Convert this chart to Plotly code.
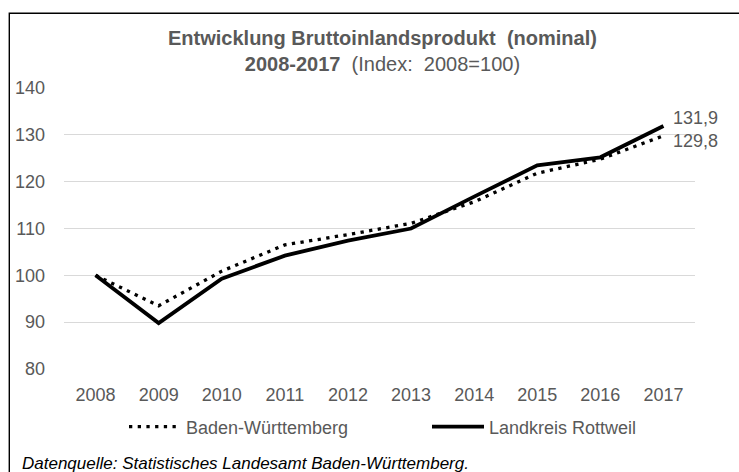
import plotly.graph_objects as go

years = ["2008", "2009", "2010", "2011", "2012", "2013", "2014", "2015", "2016", "2017"]
bw_values = [100, 93.5, 100.9, 106.5, 108.7, 111.1, 115.7, 121.8, 124.8, 129.8]
rw_values = [100, 89.8, 99.3, 104.2, 107.4, 110.0, 116.8, 123.5, 125.2, 131.9]
bw_name = "Baden-Württemberg"
rw_name = "Landkreis Rottweil"
end_labels = ["131,9", "129,8"]
y_ticks = [80, 90, 100, 110, 120, 130, 140]

GREY = "#595959"
FONT = "Liberation Sans, Arial, sans-serif"

fig = go.Figure()
fig.add_trace(go.Scatter(x=years, y=bw_values, name=bw_name, mode="lines", legend="legend",
                         line=dict(color="black", width=3.3, dash="3.3px,5.4px")))
fig.add_trace(go.Scatter(x=years, y=rw_values, name=rw_name, mode="lines", legend="legend2",
                         line=dict(color="black", width=3.8)))

leg_common = dict(orientation="h", xanchor="left", yanchor="middle", y=(369 - 427) / 281,
                  font=dict(size=18, color=GREY), itemwidth=52, bgcolor="rgba(0,0,0,0)")

fig.update_layout(
    width=739, height=472,
    margin=dict(l=64, r=44, t=88, b=103),
    paper_bgcolor="white", plot_bgcolor="white",
    font=dict(family=FONT, size=18, color=GREY),
    showlegend=True,
    legend=dict(x=(124 - 64) / 631, **leg_common),
    legend2=dict(x=(427 - 64) / 631, **leg_common),
    xaxis=dict(type="category", range=[-0.5, 9.5], showgrid=False, showline=False,
               ticks="", tickfont=dict(size=18, color=GREY), zeroline=False,
               ticklabelstandoff=13),
    yaxis=dict(range=[80, 140], tickvals=y_ticks, showgrid=True, gridcolor="#d9d9d9",
               gridwidth=1, showline=False, ticks="", zeroline=False,
               tickfont=dict(size=18, color=GREY), ticklabelstandoff=18),
)

fig.add_annotation(text="<b>Entwicklung Bruttoinlandsprodukt  (nominal)</b><br><b>2008-2017</b>  (Index:  2008=100)",
                   xref="paper", yref="paper", x=0.504, y=(369 - 51) / 281,
                   xanchor="center", yanchor="middle",
                   showarrow=False, font=dict(size=20, color=GREY, family=FONT), align="center")

fig.add_annotation(text=end_labels[0], xref="x", yref="y", x=9, y=rw_values[-1],
                   xanchor="left", yanchor="middle", xshift=8, yshift=8, showarrow=False,
                   font=dict(size=18, color=GREY))
fig.add_annotation(text=end_labels[1], xref="x", yref="y", x=9, y=bw_values[-1],
                   xanchor="left", yanchor="middle", xshift=8, yshift=-5, showarrow=False,
                   font=dict(size=18, color=GREY))

fig.add_annotation(text="<i>Datenquelle: Statistisches Landesamt Baden-Württemberg.</i>",
                   xref="paper", yref="paper", x=(20 - 64) / 631, y=(369 - 463) / 281,
                   xanchor="left", yanchor="middle",
                   showarrow=False, font=dict(size=17, color="black", family=FONT))

fig.add_shape(type="rect", xref="paper", yref="paper", x0=(9.3 - 64) / 631, x1=1.2,
              y0=-0.6, y1=(369 - 13.3) / 281,
              line=dict(color="black", width=1.4), fillcolor="rgba(0,0,0,0)", layer="below")

fig.write_html("out.html", config={"displayModeBar": False},
               post_script="document.body.style.margin='0';")
